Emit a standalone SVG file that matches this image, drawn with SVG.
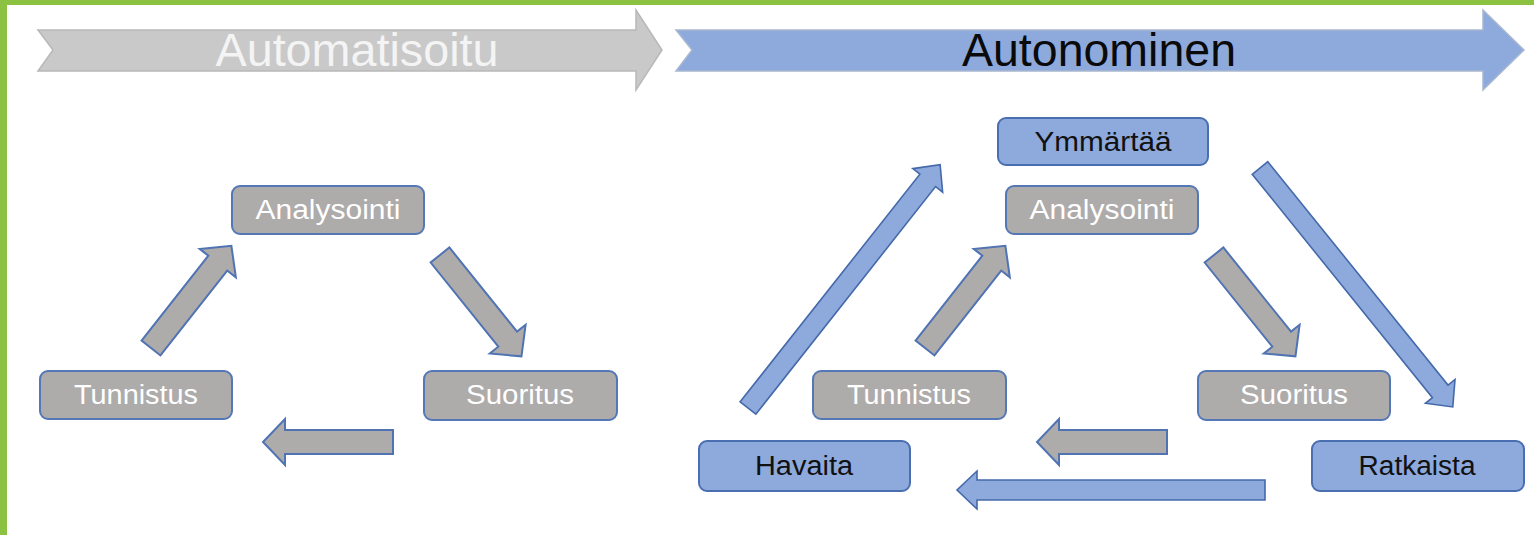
<svg xmlns="http://www.w3.org/2000/svg" width="1534" height="535" viewBox="0 0 1534 535">
<style>
.gnode{fill:#AEABAB;stroke:#5477B6;stroke-width:2}
.bnode{fill:#8EA9DB;stroke:#4A6FB0;stroke-width:2}
.garrow{fill:#AEABAB;stroke:#4F73B3;stroke-width:2;stroke-linejoin:miter}
.barrow{fill:#8EA9DB;stroke:#4469AB;stroke-width:1.6;stroke-linejoin:miter}
.gt{font-family:"Liberation Sans",Arial,sans-serif;font-size:27px;fill:#FFFFFF;text-anchor:middle}
.bt{font-family:"Liberation Sans",Arial,sans-serif;font-size:27px;fill:#111111;text-anchor:middle}
.ban{font-family:"Liberation Sans",Arial,sans-serif;font-size:46px;text-anchor:middle}
</style>
<rect x="0" y="0" width="1534" height="535" fill="#FFFFFF"/>
<rect x="0" y="0" width="1534" height="5" fill="#8BC241"/>
<rect x="0" y="0" width="7" height="535" fill="#8BC241"/>
<g id="banner-automatisoitu">
<polygon points="38,30 636,30 636,10 662,50 636,90 636,71 38,71 53,50" fill="#C9C9C9" stroke="#B8B8B8" stroke-width="1.5"/>
<text class="ban" x="357" y="66" fill="#F4F4F4" textLength="283" lengthAdjust="spacingAndGlyphs">Automatisoitu</text>
</g>
<g id="banner-autonominen">
<polygon points="676,30 1483,30 1483,10 1524,50 1483,90 1483,71 676,71 692,50" fill="#8EA9DB" stroke="#A8B8D0" stroke-width="1.5"/>
<text class="ban" x="1099" y="66" fill="#0A0A0A" textLength="274" lengthAdjust="spacingAndGlyphs">Autonominen</text>
</g>
<g id="connectors">
<polygon class="garrow" transform="translate(151,348) rotate(-51.8)" points="0,-12 108,-12 108,-23 130,0 108,23 108,12 0,12"/>
<polygon class="garrow" transform="translate(440,255) rotate(51.2)" points="0,-12 108,-12 108,-23 130,0 108,23 108,12 0,12"/>
<polygon class="garrow" transform="translate(393,442) rotate(180)" points="0,-12 108,-12 108,-23 130,0 108,23 108,12 0,12"/>
<polygon class="garrow" transform="translate(925,348) rotate(-51.8)" points="0,-12 108,-12 108,-23 130,0 108,23 108,12 0,12"/>
<polygon class="garrow" transform="translate(1214,255) rotate(51.2)" points="0,-12 108,-12 108,-23 130,0 108,23 108,12 0,12"/>
<polygon class="garrow" transform="translate(1167,442) rotate(180)" points="0,-12 108,-12 108,-23 130,0 108,23 108,12 0,12"/>
<polygon class="barrow" transform="translate(748,408) rotate(-51.7)" points="0,-10 290,-10 290,-19 310,0 290,19 290,10 0,10"/>
<polygon class="barrow" transform="translate(1260,168) rotate(51.1)" points="0,-10 287,-10 287,-19 307,0 287,19 287,10 0,10"/>
<polygon class="barrow" transform="translate(1265,490) rotate(180)" points="0,-10 288,-10 288,-19 308,0 288,19 288,10 0,10"/>
</g>
<g id="l-analysointi"><rect class="gnode" x="232" y="186" width="192" height="48" rx="8"/><text class="gt" x="328" y="219" textLength="145" lengthAdjust="spacingAndGlyphs">Analysointi</text></g>
<g id="l-tunnistus"><rect class="gnode" x="40" y="371" width="192" height="48" rx="8"/><text class="gt" x="136" y="404" textLength="124" lengthAdjust="spacingAndGlyphs">Tunnistus</text></g>
<g id="l-suoritus"><rect class="gnode" x="424" y="371" width="193" height="49" rx="8"/><text class="gt" x="520" y="404" textLength="108" lengthAdjust="spacingAndGlyphs">Suoritus</text></g>
<g id="ymmartaa"><rect class="bnode" x="998" y="118" width="210" height="47" rx="8"/><text class="bt" x="1103" y="151" textLength="137" lengthAdjust="spacingAndGlyphs">Ymmärtää</text></g>
<g id="r-analysointi"><rect class="gnode" x="1006" y="186" width="192" height="48" rx="8"/><text class="gt" x="1102" y="219" textLength="145" lengthAdjust="spacingAndGlyphs">Analysointi</text></g>
<g id="r-tunnistus"><rect class="gnode" x="813" y="371" width="193" height="48" rx="8"/><text class="gt" x="909" y="404" textLength="124" lengthAdjust="spacingAndGlyphs">Tunnistus</text></g>
<g id="r-suoritus"><rect class="gnode" x="1198" y="371" width="192" height="49" rx="8"/><text class="gt" x="1294" y="404" textLength="108" lengthAdjust="spacingAndGlyphs">Suoritus</text></g>
<g id="havaita"><rect class="bnode" x="699" y="441" width="211" height="50" rx="8"/><text class="bt" x="804" y="475" textLength="98" lengthAdjust="spacingAndGlyphs">Havaita</text></g>
<g id="ratkaista"><rect class="bnode" x="1312" y="441" width="212" height="50" rx="8"/><text class="bt" x="1417" y="475" textLength="117" lengthAdjust="spacingAndGlyphs">Ratkaista</text></g>
</svg>
